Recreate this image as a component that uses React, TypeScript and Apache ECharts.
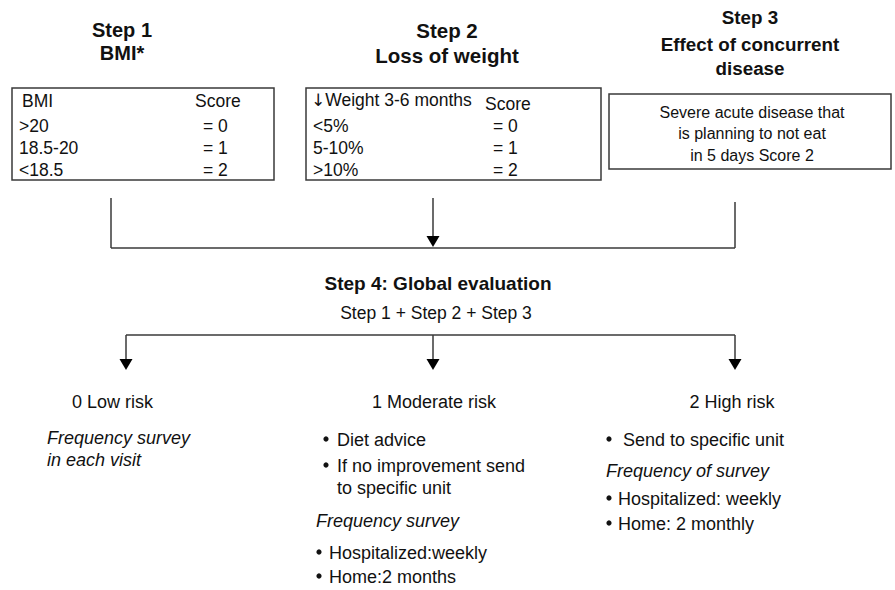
import React, { useEffect, useRef } from "react";
import * as echarts from "echarts";

const FONT = "'Liberation Sans', Arial, Helvetica, sans-serif";
const INK = "#111";
const LINE = "#3a3a3a";

const stepTitles = [
  ["Step 1", "BMI*"],
  ["Step 2", "Loss of weight"],
  ["Step 3", "Effect of concurrent", "disease"],
];
const step1Header = ["BMI", "Score"];
const step1Rows = [
  [">20", "= 0"],
  ["18.5-20", "= 1"],
  ["<18.5", "= 2"],
];
const step2Header = ["Weight 3-6 months", "Score"];
const step2Arrow = "\u2193";
const step2Rows = [
  ["<5%", "= 0"],
  ["5-10%", "= 1"],
  [">10%", "= 2"],
];
const step3Lines = ["Severe acute disease that", "is planning to not eat", "in 5 days Score 2"];
const step4Title = "Step 4: Global evaluation";
const step4Sub = "Step 1 + Step 2 + Step 3";
const riskLabels = ["0 Low risk", "1 Moderate risk", "2 High risk"];
const lowNotes = ["Frequency survey", "in each visit"];
const modBullets = ["Diet advice", "If no improvement send", "to specific unit"];
const modFreqTitle = "Frequency survey";
const modFreq = ["Hospitalized:weekly", "Home:2 months"];
const highBullets = ["Send to specific unit"];
const highFreqTitle = "Frequency of survey";
const highFreq = ["Hospitalized: weekly", "Home: 2 monthly"];

function txt(
  text: string,
  x: number,
  y: number,
  opts: { size?: number; bold?: boolean; italic?: boolean; align?: string; rich?: any } = {}
) {
  const style: any = {
    text,
    fill: INK,
    fontFamily: FONT,
    fontSize: opts.size ?? 18,
    fontWeight: opts.bold ? "bold" : "normal",
    fontStyle: opts.italic ? "italic" : "normal",
    align: opts.align ?? "left",
    verticalAlign: "middle",
  };
  if (opts.rich) style.rich = opts.rich;
  return { type: "text", x, y, silent: true, style };
}

function bullet(x: number, y: number) {
  return {
    type: "circle",
    silent: true,
    shape: { cx: x, cy: y, r: 2.6 },
    style: { fill: INK },
  };
}

function line(x1: number, y1: number, x2: number, y2: number) {
  return {
    type: "line",
    silent: true,
    shape: { x1, y1, x2, y2 },
    style: { stroke: LINE, lineWidth: 1.5 },
  };
}

function arrowHead(x: number, tipY: number) {
  return {
    type: "polygon",
    silent: true,
    shape: {
      points: [
        [x - 6.5, tipY - 11],
        [x + 6.5, tipY - 11],
        [x, tipY],
      ],
    },
    style: { fill: "#000" },
  };
}

function box(x: number, y: number, w: number, h: number) {
  return {
    type: "rect",
    silent: true,
    shape: { x, y, width: w, height: h },
    style: { fill: "none", stroke: LINE, lineWidth: 1.5 },
  };
}

export default function App() {
  const ref = useRef<HTMLDivElement>(null);
  useEffect(() => {
    if (!ref.current) return;
    const chart = echarts.init(ref.current, undefined, { renderer: "svg" });
    const els: any[] = [];

    // Step titles
    const titleX = [122, 447, 750];
    const titleSize = [20, 20.5, 18.8];
    const titleY = [
      [30, 53],
      [30, 55],
      [17, 44, 68],
    ];
    stepTitles.forEach((lines, i) =>
      lines.forEach((t, j) =>
        els.push(txt(t, titleX[i], titleY[i][j], { size: titleSize[i], bold: true, align: "center" }))
      )
    );

    // Step 1 box
    els.push(box(12, 88, 262, 92));
    els.push(txt(step1Header[0], 22, 101, { size: 17.5 }));
    els.push(txt(step1Header[1], 195, 101, { size: 17.5 }));
    const rowY = [126, 148, 170];
    step1Rows.forEach((r, i) => {
      els.push(txt(r[0], 19, rowY[i], { size: 17.5 }));
      els.push(txt(r[1], 203, rowY[i], { size: 17.5 }));
    });

    // Step 2 box
    els.push(box(306, 88, 295, 92));
    els.push(
      txt("{a|" + step2Arrow + "}" + step2Header[0], 311, 100, {
        size: 17.5,
        rich: { a: { fontFamily: "'DejaVu Sans'", fontSize: 17, fill: INK } },
      })
    );
    els.push(txt(step2Header[1], 485, 104, { size: 17.5 }));
    step2Rows.forEach((r, i) => {
      els.push(txt(r[0], 313, rowY[i], { size: 17.5 }));
      els.push(txt(r[1], 493, rowY[i], { size: 17.5 }));
    });

    // Step 3 box
    els.push(box(609, 94, 282, 75));
    const s3Y = [112, 133, 155];
    step3Lines.forEach((t, i) => els.push(txt(t, 752, s3Y[i], { size: 16, align: "center" })));

    // Top connectors
    els.push(line(111, 198, 111, 248));
    els.push(line(735, 202, 735, 248));
    els.push(line(111, 248, 735, 248));
    els.push(line(433, 198, 433, 238));
    els.push(arrowHead(433, 247));

    // Step 4
    els.push(txt(step4Title, 438, 283, { size: 19, bold: true, align: "center" }));
    els.push(txt(step4Sub, 436, 313, { size: 17.5, align: "center" }));

    // Bottom connectors
    els.push(line(126, 335, 735, 335));
    [126, 433, 735].forEach((x) => {
      els.push(line(x, 335, x, 360));
      els.push(arrowHead(x, 370));
    });

    // Risk labels
    els.push(txt(riskLabels[0], 72, 402));
    els.push(txt(riskLabels[1], 434, 402, { align: "center" }));
    els.push(txt(riskLabels[2], 732, 402, { align: "center" }));

    // Low risk notes
    els.push(txt(lowNotes[0], 47, 438, { italic: true }));
    els.push(txt(lowNotes[1], 47, 460, { italic: true }));

    // Moderate risk
    els.push(bullet(326, 439));
    els.push(txt(modBullets[0], 337, 440));
    els.push(bullet(326, 465));
    els.push(txt(modBullets[1], 337, 466));
    els.push(txt(modBullets[2], 337, 488));
    els.push(txt(modFreqTitle, 316, 521, { italic: true }));
    const modFY = [553, 577];
    modFreq.forEach((t, i) => {
      els.push(bullet(319, modFY[i] - 1));
      els.push(txt(t, 329, modFY[i]));
    });

    // High risk
    els.push(bullet(609, 439));
    els.push(txt(highBullets[0], 623, 440));
    els.push(txt(highFreqTitle, 606, 471, { italic: true }));
    const highFY = [499, 524];
    highFreq.forEach((t, i) => {
      els.push(bullet(609, highFY[i] - 1));
      els.push(txt(t, 618, highFY[i]));
    });

    chart.setOption({
      animation: false,
      backgroundColor: "#fff",
      graphic: { elements: els },
    });
    return () => chart.dispose();
  }, []);
  return (
    <div
      ref={ref}
      style={{ position: "absolute", left: 0, top: 0, width: 895, height: 590, background: "#fff" }}
    />
  );
}
